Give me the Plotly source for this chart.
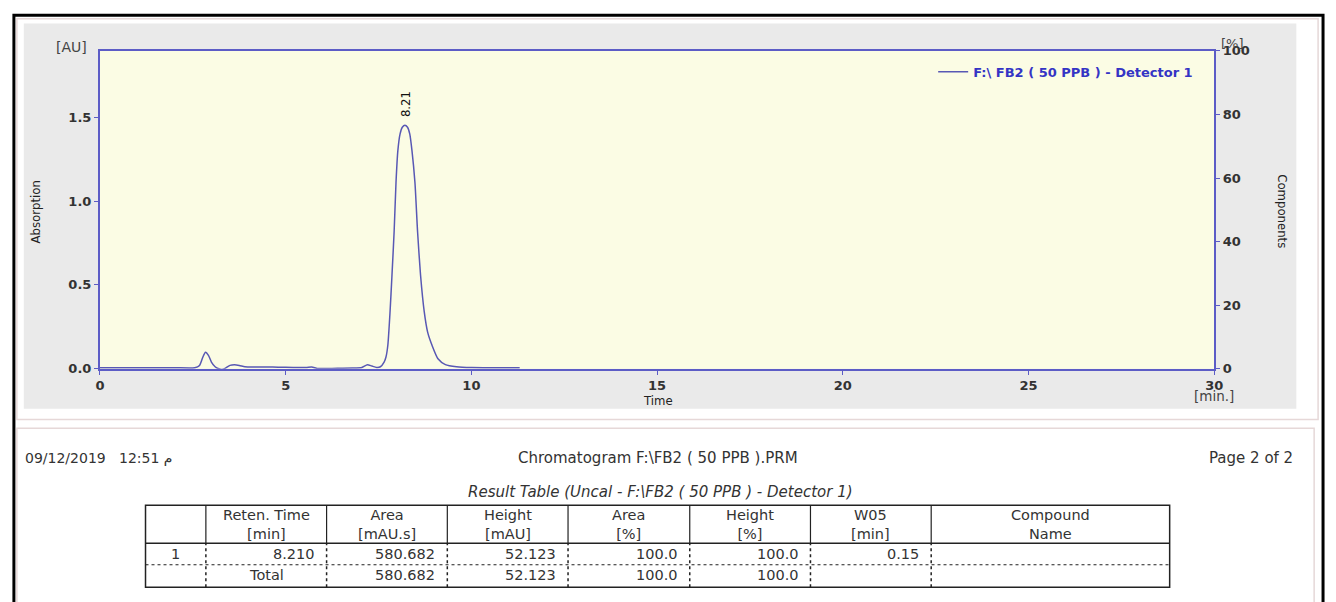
import plotly.graph_objects as go

# ---------------- data ----------------
time_min = [0.0, 1.0, 2.0, 2.55, 2.68, 2.77, 2.84, 2.92, 3.0, 3.1, 3.2, 3.28, 3.38,
            3.5, 3.62, 3.75, 3.9, 4.1, 4.4, 4.8, 5.2, 5.55, 5.7, 5.85, 6.0, 6.4,
            6.8, 7.05, 7.2, 7.32, 7.45, 7.55, 7.65, 7.70, 7.75, 7.81, 7.86, 7.92,
            7.97, 8.02, 8.08, 8.14, 8.21, 8.28, 8.34, 8.40, 8.48, 8.55, 8.63, 8.73,
            8.82, 8.94, 9.1, 9.3, 9.6, 10.0, 10.6, 11.3]
absorbance_au = [0.006, 0.006, 0.006, 0.006, 0.02, 0.07, 0.098, 0.08, 0.04, 0.012,
                 0.0, -0.004, 0.004, 0.02, 0.024, 0.02, 0.012, 0.01, 0.011, 0.009,
                 0.008, 0.008, 0.011, 0.002, 0.001, 0.003, 0.004, 0.008, 0.024,
                 0.016, 0.008, 0.012, 0.04, 0.07, 0.14, 0.34, 0.55, 0.82, 1.11,
                 1.30, 1.40, 1.44, 1.452, 1.44, 1.40, 1.30, 1.11, 0.82, 0.56, 0.34,
                 0.22, 0.14, 0.06, 0.025, 0.012, 0.007, 0.006, 0.006]
peak_rt = 8.21
peak_height = 1.452
peak_label = "8.21"
trace_name = "F:\\ FB2 ( 50 PPB ) - Detector 1"

x_ticks = [0, 5, 10, 15, 20, 25, 30]
y_ticks = [0.0, 0.5, 1.0, 1.5]
y_tick_labels = ["0.0", "0.5", "1.0", "1.5"]
y2_ticks = [0, 20, 40, 60, 80, 100]
x_range = [0, 30]
y_range = [0, 1.895]
y2_range = [0, 100]

date_text = "09/12/2019   12:51 م"
title_text = "Chromatogram F:\\FB2 ( 50 PPB ).PRM"
page_text = "Page 2 of 2"
table_title = "Result Table (Uncal - F:\\FB2 ( 50 PPB ) - Detector 1)"

header_line1 = ["", "Reten. Time", "Area", "Height", "Area", "Height", "W05", "Compound"]
header_line2 = ["", "[min]", "[mAU.s]", "[mAU]", "[%]", "[%]", "[min]", "Name"]
row_peak = ["1", "8.210", "580.682", "52.123", "100.0", "100.0", "0.15", ""]
row_total = ["", "Total", "580.682", "52.123", "100.0", "100.0", "", ""]

# ---------------- layout helpers ----------------
W, H = 1336, 602


def px(x):
    return x / W


def py(y):
    return 1 - y / H


AXIS_BLUE = "#5c5cc6"
TRACE_BLUE = "#5858b4"
TEXT = "#333333"
NARROW = "Liberation Sans Narrow, DejaVu Sans Condensed, Arial Narrow, sans-serif"
SANS = "DejaVu Sans, Verdana, sans-serif"

plot_l, plot_r, plot_t, plot_b = 96, 1222, 45, 371

fig = go.Figure()
fig.add_trace(go.Scatter(
    x=time_min, y=absorbance_au, mode="lines", name=trace_name,
    line=dict(color=TRACE_BLUE, width=1.5, shape="spline", smoothing=0.6),
    showlegend=True, hoverinfo="x+y"))
fig.add_trace(go.Scatter(x=[None], y=[None], yaxis="y2", showlegend=False,
                         hoverinfo="skip"))

shapes = []
# gray chart panel
shapes.append(dict(type="rect", xref="paper", yref="paper", layer="below",
                   x0=px(19), x1=px(1305), y0=py(412), y1=py(17),
                   fillcolor="#eaeaea", line=dict(width=0)))
# light yellow plot area
shapes.append(dict(type="rect", xref="x domain", yref="y domain", layer="below",
                   x0=0, x1=1, y0=0, y1=1, fillcolor="#fbfce4", line=dict(width=0)))
# faint panel borders
shapes.append(dict(type="rect", xref="paper", yref="paper", layer="below",
                   x0=px(12), x1=px(1327), y0=py(423), y1=py(12),
                   line=dict(color="#e6d8d8", width=1.5)))
shapes.append(dict(type="rect", xref="paper", yref="paper", layer="below",
                   x0=px(12), x1=px(1323), y0=py(640), y1=py(432),
                   line=dict(color="#e6d8d8", width=1.5)))
# black outer frame
shapes.append(dict(type="rect", xref="paper", yref="paper", layer="above",
                   x0=px(9), x1=px(1332), y0=py(650), y1=py(8.5),
                   line=dict(color="#000000", width=3)))

# ---------------- result table ----------------
col_edges = [142, 203, 325, 447, 569, 692, 814, 936, 1177]
t_top, t_head, t_mid, t_bot = 511, 550, 572, 595
LINE = "#222222"
shapes.append(dict(type="rect", xref="paper", yref="paper",
                   x0=px(col_edges[0]), x1=px(col_edges[-1]),
                   y0=py(t_bot), y1=py(t_top), line=dict(color=LINE, width=1.5)))
shapes.append(dict(type="line", xref="paper", yref="paper",
                   x0=px(col_edges[0]), x1=px(col_edges[-1]),
                   y0=py(t_head), y1=py(t_head), line=dict(color=LINE, width=1.5)))
shapes.append(dict(type="line", xref="paper", yref="paper",
                   x0=px(col_edges[0]), x1=px(col_edges[-1]),
                   y0=py(t_mid), y1=py(t_mid), line=dict(color=LINE, width=1.2, dash="dot")))
for xe in col_edges[1:-1]:
    shapes.append(dict(type="line", xref="paper", yref="paper",
                       x0=px(xe), x1=px(xe), y0=py(t_head), y1=py(t_top),
                       line=dict(color=LINE, width=1.2)))
    shapes.append(dict(type="line", xref="paper", yref="paper",
                       x0=px(xe), x1=px(xe), y0=py(t_bot), y1=py(t_head),
                       line=dict(color=LINE, width=1.5, dash="dot")))

annotations = []


def note(text, x, y, size=14, family=SANS, color=TEXT, xanchor="center",
         yanchor="middle", angle=0, italic=False, weight="normal"):
    annotations.append(dict(
        text=text, x=px(x), y=py(y), xref="paper", yref="paper", showarrow=False,
        xanchor=xanchor, yanchor=yanchor, textangle=angle,
        font=dict(size=size, family=family, color=color,
                  style="italic" if italic else "normal", weight=weight)))


for i in range(len(header_line1)):
    cx = (col_edges[i] + col_edges[i + 1]) / 2
    if header_line1[i]:
        note(header_line1[i] + "<br>" + header_line2[i], cx, 530.5, size=14.5)
    for row, yrow in ((row_peak, 561), (row_total, 583)):
        val = row[i]
        if not val:
            continue
        if val in ("1", "Total"):
            note(val, cx, yrow, size=14.5)
        else:
            note(val, col_edges[i + 1] - 10, yrow, size=14.5, xanchor="right")

note(date_text, 18, 463, size=14, xanchor="left")
note(title_text, 660, 463, size=15)
note(page_text, 1304, 463, size=15, xanchor="right")
note(table_title, 662, 497, size=15, italic=True)

# chart texts
note("[AU]", 67, 41, size=14, color="#444444")
note("[%]", 1240, 37, size=13, color="#444444")
note("[min.]", 1222, 399, size=13.5, color="#444444")
note("Time", 660, 404, size=13, family=NARROW, color="#222222")
note("Absorption", 31, 210, size=13, family=NARROW, color="#222222", angle=-90)
note("Components", 1291, 210, size=13, family=NARROW, color="#222222", angle=90)

annotations.append(dict(
    text=peak_label, x=peak_rt, y=peak_height, xref="x", yref="y",
    showarrow=False, xanchor="center", yanchor="bottom", yshift=6, textangle=-90,
    font=dict(size=13, family=NARROW, color="#111111")))

tickfont = dict(family=SANS, size=13, color=TEXT, weight="bold")

fig.update_layout(
    width=W, height=H, autosize=False,
    margin=dict(l=0, r=0, t=0, b=0),
    paper_bgcolor="#ffffff", plot_bgcolor="rgba(0,0,0,0)",
    shapes=shapes, annotations=annotations,
    xaxis=dict(domain=[px(plot_l), px(plot_r)], range=x_range,
               tickvals=x_ticks, ticks="outside", ticklen=4, tickcolor=AXIS_BLUE,
               showline=True, linecolor=AXIS_BLUE, linewidth=2, mirror=True,
               showgrid=False, zeroline=False, tickfont=tickfont),
    yaxis=dict(domain=[py(plot_b), py(plot_t)], range=y_range,
               tickvals=y_ticks, ticktext=y_tick_labels, ticks="outside",
               ticklen=4, tickcolor=AXIS_BLUE, showline=True, linecolor=AXIS_BLUE,
               linewidth=2, showgrid=False, zeroline=False, tickfont=tickfont),
    yaxis2=dict(overlaying="y", side="right", range=y2_range, tickvals=y2_ticks,
                ticks="outside", ticklen=4, tickcolor=AXIS_BLUE, showline=True,
                linecolor=AXIS_BLUE, linewidth=2, showgrid=False, zeroline=False,
                tickfont=tickfont),
    legend=dict(x=px(938), y=py(51), xanchor="left", yanchor="top",
                bgcolor="rgba(0,0,0,0)", borderwidth=0,
                font=dict(family=SANS, size=13, color="#3434c4", weight="bold")),
    showlegend=True,
)

fig.write_html("out.html", config={"displayModeBar": False},
               post_script="document.body.style.margin='0';"
                           "document.documentElement.style.overflow='hidden';")
